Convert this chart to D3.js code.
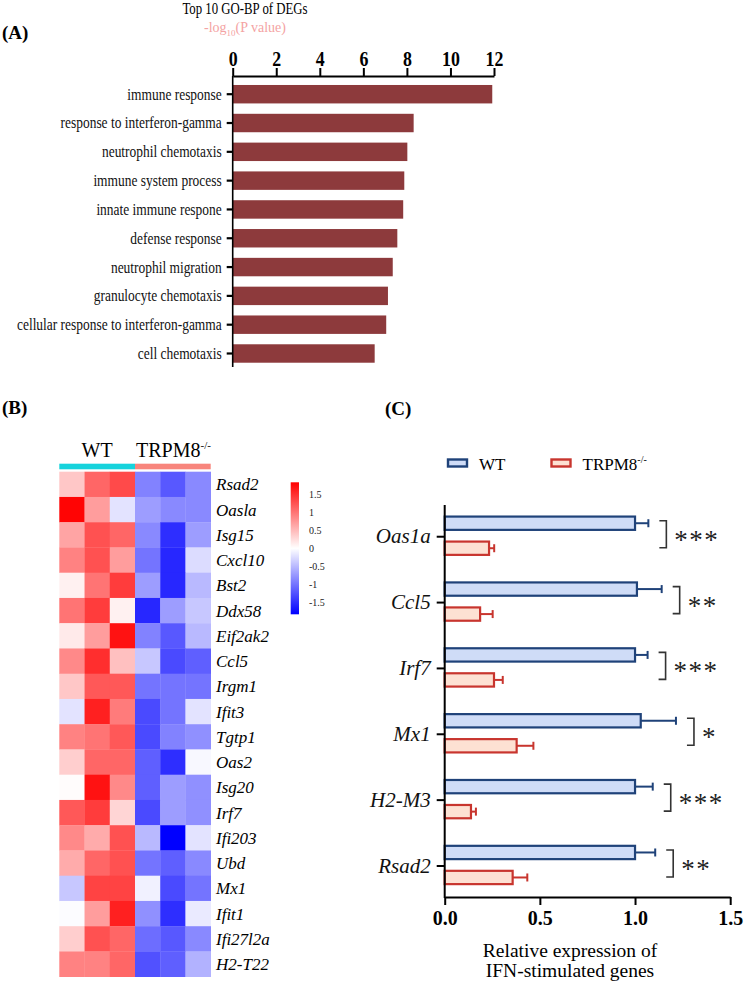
<!DOCTYPE html>
<html>
<head>
<meta charset="utf-8">
<script src="https://cdn.jsdelivr.net/npm/d3@7"></script>
<style>
  body { margin: 0; background: #fff; }
  svg text { font-family: 'Liberation Serif', 'Times New Roman', Times, serif; }
</style>
</head>
<body>
<div id="fig"></div>
<script>
// --- Panel A data: top 10 GO-BP terms
var goTerms = ['immune response', 'response to interferon-gamma', 'neutrophil chemotaxis',
  'immune system process', 'innate immune respone', 'defense response', 'neutrophil migration',
  'granulocyte chemotaxis', 'cellular response to interferon-gamma', 'cell chemotaxis'];
var goValues = [11.92, 8.31, 8.02, 7.88, 7.83, 7.56, 7.35, 7.13, 7.05, 6.52];
var goTicks = [0, 2, 4, 6, 8, 10, 12];

// --- Panel B data: heatmap (z-scores), 3 WT + 3 TRPM8-/- samples
var heatGenes = ['Rsad2', 'Oasla', 'Isg15', 'Cxcl10', 'Bst2', 'Ddx58', 'Eif2ak2', 'Ccl5', 'Irgm1',
  'Ifit3', 'Tgtp1', 'Oas2', 'Isg20', 'Irf7', 'Ifi203', 'Ubd', 'Mx1', 'Ifit1', 'Ifi27l2a', 'H2-T22'];
var heatGroups = ['WT', 'TRPM8'];
var heatValues = [
  [0.40, 1.10, 1.30, -0.90, -1.20, -0.85],
  [1.80, 0.70, -0.20, -0.70, -0.85, -0.85],
  [0.65, 1.25, 1.10, -0.85, -1.50, -0.70],
  [0.90, 1.25, 0.70, -1.00, -1.55, -0.25],
  [0.10, 1.00, 1.40, -0.70, -1.55, -0.50],
  [1.00, 1.40, 0.10, -1.55, -0.70, -0.40],
  [0.15, 0.70, 1.70, -0.90, -1.20, -0.50],
  [0.85, 1.50, 0.45, -0.40, -1.30, -1.15],
  [0.40, 1.20, 1.20, -1.00, -1.00, -1.00],
  [-0.20, 1.60, 0.95, -1.30, -1.00, -0.20],
  [0.90, 1.00, 1.20, -1.30, -0.90, -0.80],
  [0.35, 1.10, 1.10, -1.15, -1.50, -0.05],
  [0.02, 1.70, 0.85, -1.15, -0.70, -0.80],
  [1.20, 1.40, 0.30, -1.30, -0.70, -0.80],
  [0.85, 0.60, 1.25, -0.50, -1.85, -0.20],
  [0.60, 1.10, 1.25, -1.00, -1.15, -0.85],
  [-0.40, 1.35, 1.35, -0.10, -1.30, -1.00],
  [-0.02, 0.70, 1.60, -0.80, -1.50, -0.15],
  [0.35, 1.25, 1.10, -1.05, -1.20, -0.85],
  [0.90, 0.90, 1.10, -1.25, -1.15, -0.55]
];
var heatTicks = [1.5, 1, 0.5, 0, -0.5, -1, -1.5];

// --- Panel C data: qPCR of IFN-stimulated genes
var qGenes = ['Oas1a', 'Ccl5', 'Irf7', 'Mx1', 'H2-M3', 'Rsad2'];
var wtMean = [1.00, 1.01, 1.00, 1.03, 1.00, 1.00];
var wtErr  = [0.07, 0.13, 0.066, 0.185, 0.093, 0.106];
var koMean = [0.233, 0.186, 0.259, 0.378, 0.138, 0.357];
var koErr  = [0.027, 0.066, 0.046, 0.088, 0.026, 0.077];
var sigMarks = ['***', '**', '***', '*', '***', '**'];
var qTicks = [0, 0.5, 1.0, 1.5];

var width = 744, height = 984;
var svg = d3.select('#fig').append('svg')
  .attr('width', width).attr('height', height);

// squeeze text horizontally (panel A type is narrow in the original)
function squeeze(sel, k) {
  sel.each(function () {
    var w = this.getComputedTextLength();
    d3.select(this).attr('textLength', w * k).attr('lengthAdjust', 'spacingAndGlyphs');
  });
}

// ================= Panel A =================
svg.append('text').attr('x', 2).attr('y', 39)
  .attr('font-size', 19).attr('font-weight', 'bold').text('(A)');

var tA = svg.append('text').attr('x', 245).attr('y', 14).attr('text-anchor', 'middle')
  .attr('font-size', 16).text('Top 10 GO-BP of DEGs');
squeeze(tA, 0.8);

var sub = svg.append('text').attr('x', 245).attr('y', 32).attr('text-anchor', 'middle')
  .attr('font-size', 14).attr('fill', '#f4a3a3');
sub.append('tspan').text('-log');
sub.append('tspan').attr('font-size', 9).attr('dy', 4).text('10');
sub.append('tspan').attr('dy', -4).text('(P value)');

var xA = d3.scaleLinear().domain([0, 12]).range([232.7, 494]);
var yA = d3.scaleBand().domain(goTerms).range([79.8, 367.9]).paddingInner(0.36).paddingOuter(0.18);

svg.selectAll('rect.go')
  .data(goValues)
  .enter()
  .append('rect')
  .attr('class', 'go')
  .attr('x', xA(0))
  .attr('y', function (d, i) { return yA(goTerms[i]); })
  .attr('width', function (d) { return xA(d) - xA(0); })
  .attr('height', yA.bandwidth())
  .attr('fill', '#8d3a3c');

var axTop = svg.append('g').attr('transform', 'translate(0,76)')
  .call(d3.axisTop(xA).tickValues(goTicks).tickSize(8).tickSizeOuter(0).tickPadding(2));
axTop.select('.domain').attr('stroke-width', 2.2);
axTop.selectAll('.tick line').attr('stroke-width', 2);
axTop.selectAll('.tick text').attr('font-size', 21)
  .attr('font-weight', 'bold').attr('fill', '#000').call(squeeze, 0.85);

var axLeftA = svg.append('g').attr('transform', 'translate(' + xA(0) + ',0)')
  .call(d3.axisLeft(yA).tickSize(6).tickSizeOuter(0).tickPadding(5));
axLeftA.select('.domain').remove();
axLeftA.append('line').attr('x1', 0).attr('x2', 0).attr('y1', 76).attr('y2', 367)
  .attr('stroke', '#000').attr('stroke-width', 1.6);
axLeftA.selectAll('.tick line').attr('stroke-width', 2.2);
axLeftA.selectAll('.tick text').attr('font-size', 17)
  .attr('fill', '#111').call(squeeze, 0.79);

// ================= Panel B =================
svg.append('text').attr('x', 2).attr('y', 414)
  .attr('font-size', 19).attr('font-weight', 'bold').text('(B)');

var xB = d3.scaleBand().domain(d3.range(6)).range([59.3, 210.7]);
var yB = d3.scaleBand().domain(heatGenes).range([471.7, 976.7]);
var heatColor = d3.scaleLinear().domain([-1.83, 0, 1.83]).range(['#0000ff', '#ffffff', '#ff0000']);

var groupBar = d3.scaleBand().domain(heatGroups).range([59.3, 210.7]);
svg.selectAll('rect.grp')
  .data(heatGroups)
  .enter()
  .append('rect')
  .attr('x', function (d) { return groupBar(d); })
  .attr('y', 463.7)
  .attr('width', groupBar.bandwidth())
  .attr('height', 5.6)
  .attr('fill', function (d, i) { return i === 0 ? '#16d3dc' : '#f8857c'; });

svg.append('text').attr('x', groupBar('WT') + groupBar.bandwidth() / 2).attr('y', 457)
  .attr('text-anchor', 'middle').attr('font-size', 20).text('WT');
var koLab = svg.append('text').attr('x', groupBar('TRPM8') + 1).attr('y', 457).attr('font-size', 20);
koLab.append('tspan').text('TRPM8');
koLab.append('tspan').attr('font-size', 11).attr('dy', -8).text('-/-');

var rows = svg.selectAll('g.hrow')
  .data(heatValues)
  .enter()
  .append('g')
  .attr('transform', function (d, i) { return 'translate(0,' + yB(heatGenes[i]) + ')'; });
rows.selectAll('rect')
  .data(function (d) { return d; })
  .enter()
  .append('rect')
  .attr('x', function (d, j) { return xB(j); })
  .attr('width', xB.bandwidth() + 0.3)
  .attr('height', yB.bandwidth() + 0.3)
  .attr('fill', function (d) { return heatColor(d); });

svg.selectAll('text.hgene')
  .data(heatGenes)
  .enter()
  .append('text')
  .attr('x', 216)
  .attr('y', function (d) { return yB(d) + yB.bandwidth() / 2; })
  .attr('dy', '0.35em')
  .attr('font-size', 17)
  .attr('font-style', 'italic')
  .text(function (d) { return d; });

// color key
var keyY = d3.scaleLinear().domain([-1.83, 1.83]).range([614.3, 482.3]);
var grad = svg.append('defs').append('linearGradient').attr('id', 'hgrad')
  .attr('x1', 0).attr('y1', 1).attr('x2', 0).attr('y2', 0);
grad.selectAll('stop')
  .data([-1.83, 0, 1.83])
  .enter()
  .append('stop')
  .attr('offset', function (d, i) { return i / 2; })
  .attr('stop-color', function (d) { return heatColor(d); });
svg.append('rect').attr('x', 290.7).attr('y', keyY(1.83)).attr('width', 8.3)
  .attr('height', keyY(-1.83) - keyY(1.83)).attr('fill', 'url(#hgrad)');
svg.selectAll('text.key')
  .data(heatTicks)
  .enter()
  .append('text')
  .attr('x', 309)
  .attr('y', function (d) { return keyY(d); })
  .attr('dy', '0.35em')
  .attr('font-size', 10)
  .attr('fill', '#222')
  .text(function (d) { return d; });

// ================= Panel C =================
svg.append('text').attr('x', 385).attr('y', 415)
  .attr('font-size', 19).attr('font-weight', 'bold').text('(C)');

var wtFill = '#cfdcf7', wtStroke = '#1f4279';
var koFill = '#fde1d3', koStroke = '#c8352e';

// legend
var legC = [{ name: 'WT', fill: wtFill, stroke: wtStroke, x: 448 },
            { name: 'TRPM8', fill: koFill, stroke: koStroke, x: 551.5 }];
var lg = svg.selectAll('g.leg')
  .data(legC)
  .enter()
  .append('g')
  .attr('transform', function (d) { return 'translate(' + d.x + ',459.5)'; });
lg.append('rect').attr('width', 19).attr('height', 7)
  .attr('fill', function (d) { return d.fill; })
  .attr('stroke', function (d) { return d.stroke; }).attr('stroke-width', 2.4);
var lgt = lg.append('text').attr('x', 31).attr('y', 10.5).attr('font-size', 17);
lgt.append('tspan').text(function (d) { return d.name; });
lgt.filter(function (d) { return d.name === 'TRPM8'; })
  .append('tspan').attr('font-size', 10).attr('dy', -7).text('-/-');

var xC = d3.scaleLinear().domain([0, 1.5]).range([444.7, 730.2]);
var yC = d3.scaleBand().domain(qGenes).range([503.8, 898.9]);
var inner = d3.scaleBand().domain(['wt', 'ko']).range([-26, 24]).paddingInner(0.468).paddingOuter(0.234);

var gC = svg.selectAll('g.qg')
  .data(qGenes)
  .enter()
  .append('g')
  .attr('transform', function (d) { return 'translate(0,' + (yC(d) + yC.bandwidth() / 2) + ')'; });

function drawBars(key, means, errs, fill, stroke) {
  var yy = inner(key), h = inner.bandwidth();
  gC.append('line')
    .attr('x1', function (d, i) { return xC(means[i]); })
    .attr('x2', function (d, i) { return xC(means[i] + errs[i]); })
    .attr('y1', yy + h / 2).attr('y2', yy + h / 2)
    .attr('stroke', stroke).attr('stroke-width', 2);
  gC.append('line')
    .attr('x1', function (d, i) { return xC(means[i] + errs[i]); })
    .attr('x2', function (d, i) { return xC(means[i] + errs[i]); })
    .attr('y1', yy + h / 2 - 4).attr('y2', yy + h / 2 + 4)
    .attr('stroke', stroke).attr('stroke-width', 2);
  gC.append('rect')
    .attr('x', xC(0))
    .attr('y', yy)
    .attr('width', function (d, i) { return xC(means[i]) - xC(0); })
    .attr('height', h)
    .attr('fill', fill)
    .attr('stroke', stroke)
    .attr('stroke-width', 2.2);
}
drawBars('wt', wtMean, wtErr, wtFill, wtStroke);
drawBars('ko', koMean, koErr, koFill, koStroke);

// significance brackets
gC.append('path')
  .attr('d', function (d, i) {
    var bx = xC(wtMean[i] + wtErr[i]) + 11;
    return 'M' + bx + ',-16H' + (bx + 7) + 'V11H' + bx;
  })
  .attr('fill', 'none').attr('stroke', '#333').attr('stroke-width', 1.6);
gC.append('text')
  .attr('x', function (d, i) { return xC(wtMean[i] + wtErr[i]) + 26; })
  .attr('y', 12)
  .attr('font-size', 27)
  .attr('letter-spacing', 1.5)
  .attr('fill', '#222')
  .text(function (d, i) { return sigMarks[i]; });

var axB = svg.append('g').attr('transform', 'translate(0,897)')
  .call(d3.axisBottom(xC).tickValues(qTicks).tickFormat(d3.format('.1f')).tickSize(8).tickSizeOuter(0).tickPadding(6));
axB.select('.domain').attr('stroke-width', 2);
axB.selectAll('.tick line').attr('stroke-width', 2);
axB.selectAll('.tick text').attr('font-size', 20)
  .attr('font-weight', 'bold').attr('fill', '#000');

var axL = svg.append('g').attr('transform', 'translate(' + xC(0) + ',0)')
  .call(d3.axisLeft(yC).tickSize(8).tickSizeOuter(0).tickPadding(6));
axL.select('.domain').remove();
axL.append('line').attr('x1', 0).attr('x2', 0).attr('y1', 505).attr('y2', 898)
  .attr('stroke', '#000').attr('stroke-width', 2);
axL.selectAll('.tick line').attr('stroke-width', 2);
axL.selectAll('.tick text').attr('font-size', 21)
  .attr('font-style', 'italic').attr('fill', '#111');

svg.append('text').attr('x', 570).attr('y', 957).attr('text-anchor', 'middle')
  .attr('font-size', 19.5).text('Relative expression of');
svg.append('text').attr('x', 570).attr('y', 977).attr('text-anchor', 'middle')
  .attr('font-size', 19.5).text('IFN-stimulated genes');
</script>
</body>
</html>
